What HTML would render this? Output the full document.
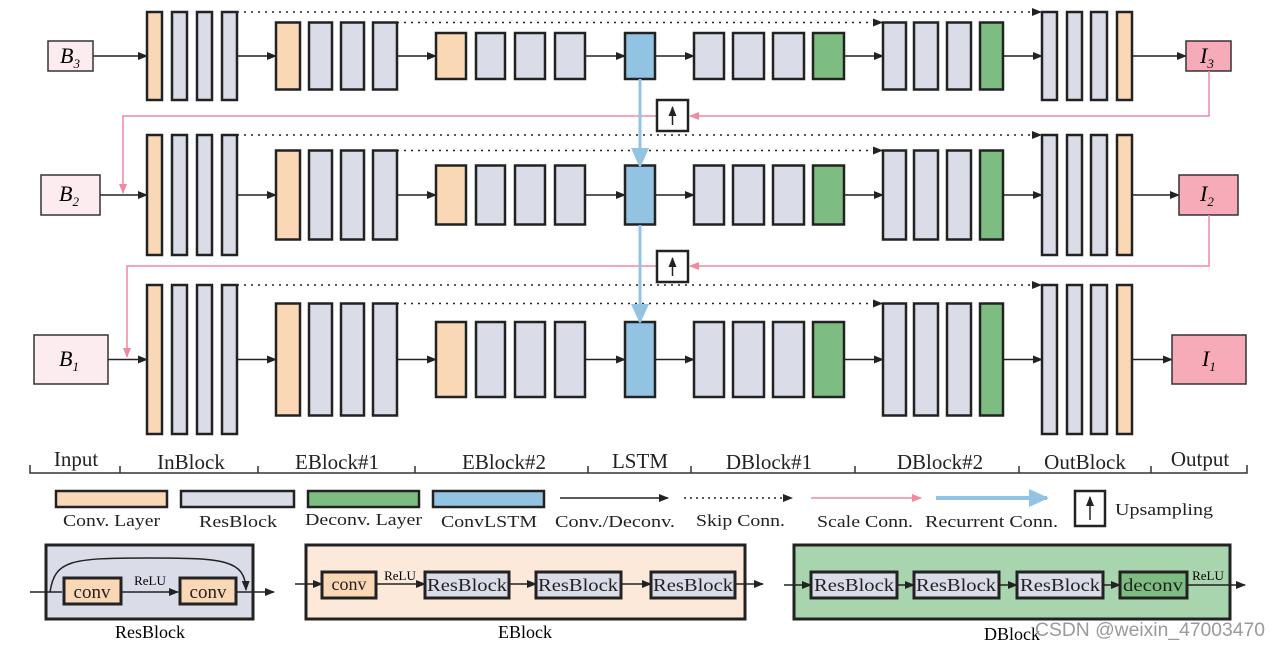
<!DOCTYPE html>
<html><head><meta charset="utf-8"><style>
html,body{margin:0;padding:0;background:#fff;}
svg{display:block;font-family:"Liberation Serif",serif;}
</style></head><body>
<svg id="s" width="1280" height="648" viewBox="0 0 1280 648" xmlns="http://www.w3.org/2000/svg">
<defs>
<marker id="ah" markerWidth="10" markerHeight="8" refX="9" refY="4" orient="auto" markerUnits="userSpaceOnUse"><path d="M0,0 L10,4 L0,8 z" fill="#222"/></marker>
<marker id="ap" markerWidth="10" markerHeight="8" refX="9" refY="4" orient="auto" markerUnits="userSpaceOnUse"><path d="M0,0 L10,4 L0,8 z" fill="#f08aa0"/></marker>
<marker id="ab" markerWidth="20" markerHeight="18" refX="18" refY="9" orient="auto" markerUnits="userSpaceOnUse"><path d="M0,0 L20,9 L0,18 z" fill="#93c3e3"/></marker>
</defs>
<g id="g"></g>

<rect x="48" y="41" width="45" height="30" fill="#fdecef" stroke="#333" stroke-width="1.5"/>
<text x="60" y="63" font-size="22" font-style="italic">B<tspan font-size="13" dy="5">3</tspan></text>
<rect x="41" y="175" width="59" height="40" fill="#fdecef" stroke="#333" stroke-width="1.5"/>
<text x="59" y="201" font-size="22" font-style="italic">B<tspan font-size="13" dy="5">2</tspan></text>
<rect x="34" y="335" width="74" height="49" fill="#fdecef" stroke="#333" stroke-width="1.5"/>
<text x="59" y="366" font-size="22" font-style="italic">B<tspan font-size="13" dy="5">1</tspan></text>

<rect x="1186" y="41" width="45" height="30" fill="#f7aab8" stroke="#333" stroke-width="1.5"/>
<text x="1200" y="63" font-size="22" font-style="italic">I<tspan font-size="13" dy="5">3</tspan></text>
<rect x="1179" y="175" width="59" height="40" fill="#f7aab8" stroke="#333" stroke-width="1.5"/>
<text x="1200" y="201" font-size="22" font-style="italic">I<tspan font-size="13" dy="5">2</tspan></text>
<rect x="1172" y="335" width="74" height="49" fill="#f7aab8" stroke="#333" stroke-width="1.5"/>
<text x="1202" y="366" font-size="22" font-style="italic">I<tspan font-size="13" dy="5">1</tspan></text>

<polyline points="1209,71 1209,116 690,116" fill="none" stroke="#f08aa0" stroke-width="1.5" marker-end="url(#ap)"/>
<polyline points="656,116 123,116 123,193" fill="none" stroke="#f08aa0" stroke-width="1.5" marker-end="url(#ap)"/>
<polyline points="1209,215 1209,266 690,266" fill="none" stroke="#f08aa0" stroke-width="1.5" marker-end="url(#ap)"/>
<polyline points="656,266 127,266 127,357" fill="none" stroke="#f08aa0" stroke-width="1.5" marker-end="url(#ap)"/>
<line x1="640" y1="79" x2="640" y2="166" stroke="#93c3e3" stroke-width="3" marker-end="url(#ab)"/>
<line x1="640" y1="225" x2="640" y2="322" stroke="#93c3e3" stroke-width="3" marker-end="url(#ab)"/>
<rect x="657" y="100" width="31" height="31" fill="#fff" stroke="#222" stroke-width="2.5"/>
<line x1="672.5" y1="125" x2="672.5" y2="107" stroke="#222" stroke-width="1.5" marker-end="url(#ah)"/>
<rect x="657" y="251" width="31" height="31" fill="#fff" stroke="#222" stroke-width="2.5"/>
<line x1="672.5" y1="276" x2="672.5" y2="258" stroke="#222" stroke-width="1.5" marker-end="url(#ah)"/>

<g font-size="21" text-anchor="middle" fill="#222">
<text x="76" y="466">Input</text>
<text x="191" y="469">InBlock</text>
<text x="337" y="469">EBlock#1</text>
<text x="504" y="469">EBlock#2</text>
<text x="640" y="468">LSTM</text>
<text x="769" y="469">DBlock#1</text>
<text x="940" y="469">DBlock#2</text>
<text x="1085" y="469">OutBlock</text>
<text x="1200" y="466">Output</text>
</g>
<polyline points="30,465 30,473 1247,473 1247,465" fill="none" stroke="#333" stroke-width="1.5"/>
<g stroke="#333" stroke-width="1.5">
<line x1="120" y1="466" x2="120" y2="473"/><line x1="258" y1="466" x2="258" y2="473"/>
<line x1="415" y1="466" x2="415" y2="473"/><line x1="588" y1="466" x2="588" y2="473"/>
<line x1="691" y1="466" x2="691" y2="473"/><line x1="855" y1="466" x2="855" y2="473"/>
<line x1="1019" y1="466" x2="1019" y2="473"/><line x1="1151" y1="466" x2="1151" y2="473"/>
</g>

<rect x="56" y="491" width="111" height="16" fill="#fad7b5" stroke="#222" stroke-width="2.5"/>
<rect x="181" y="491" width="113" height="16" fill="#dadde8" stroke="#222" stroke-width="2.5"/>
<rect x="308" y="491" width="111" height="16" fill="#7dbd82" stroke="#222" stroke-width="2.5"/>
<rect x="433" y="491" width="111" height="16" fill="#93c3e3" stroke="#222" stroke-width="2.5"/>
<line x1="560" y1="498" x2="668" y2="498" stroke="#222" stroke-width="1.5" marker-end="url(#ah)"/>
<line x1="684" y1="498" x2="792" y2="498" stroke="#222" stroke-width="1.5" stroke-dasharray="2,4" marker-end="url(#ah)"/>
<line x1="811" y1="498" x2="921" y2="498" stroke="#f08aa0" stroke-width="1.5" marker-end="url(#ap)"/>
<line x1="936" y1="498" x2="1047" y2="498" stroke="#93c3e3" stroke-width="4" marker-end="url(#ab)"/>
<rect x="1075" y="491" width="30" height="35" fill="#fff" stroke="#222" stroke-width="2.5"/>
<line x1="1090" y1="520" x2="1090" y2="497" stroke="#222" stroke-width="1.5" marker-end="url(#ah)"/>
<g font-size="17" fill="#222">
<text x="63" y="526" textLength="97" lengthAdjust="spacingAndGlyphs">Conv. Layer</text>
<text x="199" y="527" textLength="78" lengthAdjust="spacingAndGlyphs">ResBlock</text>
<text x="305" y="525" textLength="117" lengthAdjust="spacingAndGlyphs">Deconv. Layer</text>
<text x="441" y="527" textLength="96" lengthAdjust="spacingAndGlyphs">ConvLSTM</text>
<text x="555" y="527" textLength="120" lengthAdjust="spacingAndGlyphs">Conv./Deconv.</text>
<text x="696" y="526" textLength="89" lengthAdjust="spacingAndGlyphs">Skip Conn.</text>
<text x="817" y="527" textLength="96" lengthAdjust="spacingAndGlyphs">Scale Conn.</text>
<text x="925" y="527" textLength="133" lengthAdjust="spacingAndGlyphs">Recurrent Conn.</text>
<text x="1115" y="515" textLength="98" lengthAdjust="spacingAndGlyphs">Upsampling</text>
</g>

<rect x="46" y="545" width="207" height="74" fill="#dadde8" stroke="#222" stroke-width="3"/>
<line x1="30" y1="592" x2="62" y2="592" stroke="#222" stroke-width="1.5"/>
<rect x="64" y="578" width="57" height="26" fill="#fad7b5" stroke="#222" stroke-width="3"/>
<rect x="180" y="578" width="56" height="26" fill="#fad7b5" stroke="#222" stroke-width="3"/>
<line x1="121" y1="592" x2="178" y2="592" stroke="#222" stroke-width="1.5" marker-end="url(#ah)"/>
<line x1="236" y1="592" x2="274" y2="592" stroke="#222" stroke-width="1.5" marker-end="url(#ah)"/>
<path d="M50,592 C55,560 70,558 150,558 C225,558 245,560 246,590" fill="none" stroke="#222" stroke-width="1.5" marker-end="url(#ah)"/>
<g font-size="19" text-anchor="middle" fill="#222">
<text x="92" y="598">conv</text><text x="208" y="598">conv</text>
</g>
<text x="150" y="585" font-size="13" text-anchor="middle">ReLU</text>
<text x="150" y="638" font-size="18" text-anchor="middle">ResBlock</text>

<rect x="306" y="545" width="439" height="74" fill="#fde9d9" stroke="#222" stroke-width="3"/>
<line x1="295" y1="584" x2="322" y2="584" stroke="#222" stroke-width="1.5" marker-end="url(#ah)"/>
<rect x="322" y="572" width="54" height="26" fill="#fad7b5" stroke="#222" stroke-width="3"/>
<line x1="376" y1="584" x2="425" y2="584" stroke="#222" stroke-width="1.5" marker-end="url(#ah)"/>
<rect x="425" y="572" width="84" height="26" fill="#dadde8" stroke="#222" stroke-width="3"/>
<line x1="509" y1="584" x2="536" y2="584" stroke="#222" stroke-width="1.5" marker-end="url(#ah)"/>
<rect x="536" y="572" width="85" height="26" fill="#dadde8" stroke="#222" stroke-width="3"/>
<line x1="621" y1="584" x2="651" y2="584" stroke="#222" stroke-width="1.5" marker-end="url(#ah)"/>
<rect x="651" y="572" width="84" height="26" fill="#dadde8" stroke="#222" stroke-width="3"/>
<line x1="735" y1="584" x2="763" y2="584" stroke="#222" stroke-width="1.5" marker-end="url(#ah)"/>
<g font-size="18" text-anchor="middle" fill="#222">
<text x="349" y="590">conv</text>
<text x="467" y="591" textLength="80" lengthAdjust="spacingAndGlyphs">ResBlock</text>
<text x="578" y="591" textLength="80" lengthAdjust="spacingAndGlyphs">ResBlock</text>
<text x="693" y="591" textLength="80" lengthAdjust="spacingAndGlyphs">ResBlock</text>
</g>
<text x="400" y="580" font-size="13" text-anchor="middle">ReLU</text>
<text x="525" y="638" font-size="18" text-anchor="middle">EBlock</text>

<rect x="794" y="545" width="436" height="74" fill="#a8d5ae" stroke="#222" stroke-width="3"/>
<line x1="784" y1="585" x2="811" y2="585" stroke="#222" stroke-width="1.5" marker-end="url(#ah)"/>
<rect x="811" y="572" width="86" height="26" fill="#dadde8" stroke="#222" stroke-width="3"/>
<line x1="897" y1="585" x2="914" y2="585" stroke="#222" stroke-width="1.5" marker-end="url(#ah)"/>
<rect x="914" y="572" width="85" height="26" fill="#dadde8" stroke="#222" stroke-width="3"/>
<line x1="999" y1="585" x2="1017" y2="585" stroke="#222" stroke-width="1.5" marker-end="url(#ah)"/>
<rect x="1017" y="572" width="86" height="26" fill="#dadde8" stroke="#222" stroke-width="3"/>
<line x1="1103" y1="585" x2="1120" y2="585" stroke="#222" stroke-width="1.5" marker-end="url(#ah)"/>
<rect x="1120" y="572" width="67" height="26" fill="#7dbd82" stroke="#222" stroke-width="3"/>
<line x1="1187" y1="585" x2="1245" y2="585" stroke="#222" stroke-width="1.5" marker-end="url(#ah)"/>
<g font-size="18" text-anchor="middle" fill="#222">
<text x="854" y="591" textLength="80" lengthAdjust="spacingAndGlyphs">ResBlock</text>
<text x="956" y="591" textLength="80" lengthAdjust="spacingAndGlyphs">ResBlock</text>
<text x="1060" y="591" textLength="80" lengthAdjust="spacingAndGlyphs">ResBlock</text>
<text x="1153" y="591" textLength="60" lengthAdjust="spacingAndGlyphs">deconv</text>
</g>
<text x="1208" y="580" font-size="13" text-anchor="middle">ReLU</text>
<text x="1012" y="640" font-size="18" text-anchor="middle">DBlock</text>
<text x="1035" y="636" font-size="19" fill="#9a9a9a" font-family="Liberation Sans, sans-serif" textLength="230" lengthAdjust="spacingAndGlyphs">CSDN @weixin_47003470</text>
</svg>
<script>
(function(){
var g=document.getElementById('g'),NS='http://www.w3.org/2000/svg';
function el(t,a){var e=document.createElementNS(NS,t);for(var k in a)e.setAttribute(k,a[k]);g.appendChild(e);return e;}
var O='#fad7b5',R='#dadde8',G='#7dbd82',L='#93c3e3';
var rows=[{c:56,h:[44,33.5,23]},{c:195,h:[60,44.5,29.5]},{c:359.5,h:[74.5,56,37.5]}];
var cols=[
 [147,162,O,0],[172,187,R,0],[197,212,R,0],[222,237,R,0],
 [276,300,O,1],[309,332,R,1],[341,364,R,1],[373,397,R,1],
 [436,466,O,2],[476,505,R,2],[515,545,R,2],[555,585,R,2],
 [625,655,L,2],
 [694,724,R,2],[733,764,R,2],[773,804,R,2],[813,844,G,2],
 [883,906,R,1],[914,938,R,1],[947,971,R,1],[980,1003,G,1],
 [1042,1057,R,0],[1067,1082,R,0],[1091,1107,R,0],[1117,1132,O,0]];
rows.forEach(function(r,i){
 var bx=[93,100,108][i];
 var arrows=[[bx,147],[237,276],[397,436],[585,625],[655,694],[844,883],[1003,1042],[1132,[1186,1179,1172][i]]];
 arrows.forEach(function(a){el('line',{x1:a[0],y1:r.c,x2:a[1],y2:r.c,stroke:'#222','stroke-width':1.5,'marker-end':'url(#ah)'});});
 var t0=r.c-r.h[0],t1=r.c-r.h[1];
 el('line',{x1:237,y1:t0,x2:1041,y2:t0,stroke:'#222','stroke-width':1.5,'stroke-dasharray':'2,5','marker-end':'url(#ah)'});
 el('line',{x1:397,y1:t1,x2:882,y2:t1,stroke:'#222','stroke-width':1.5,'stroke-dasharray':'2,5','marker-end':'url(#ah)'});
 cols.forEach(function(c){var h=r.h[c[3]];el('rect',{x:c[0],y:r.c-h,width:c[1]-c[0],height:2*h,fill:c[2],stroke:'#222','stroke-width':2.5});});
});
})();
</script>
</body></html>
